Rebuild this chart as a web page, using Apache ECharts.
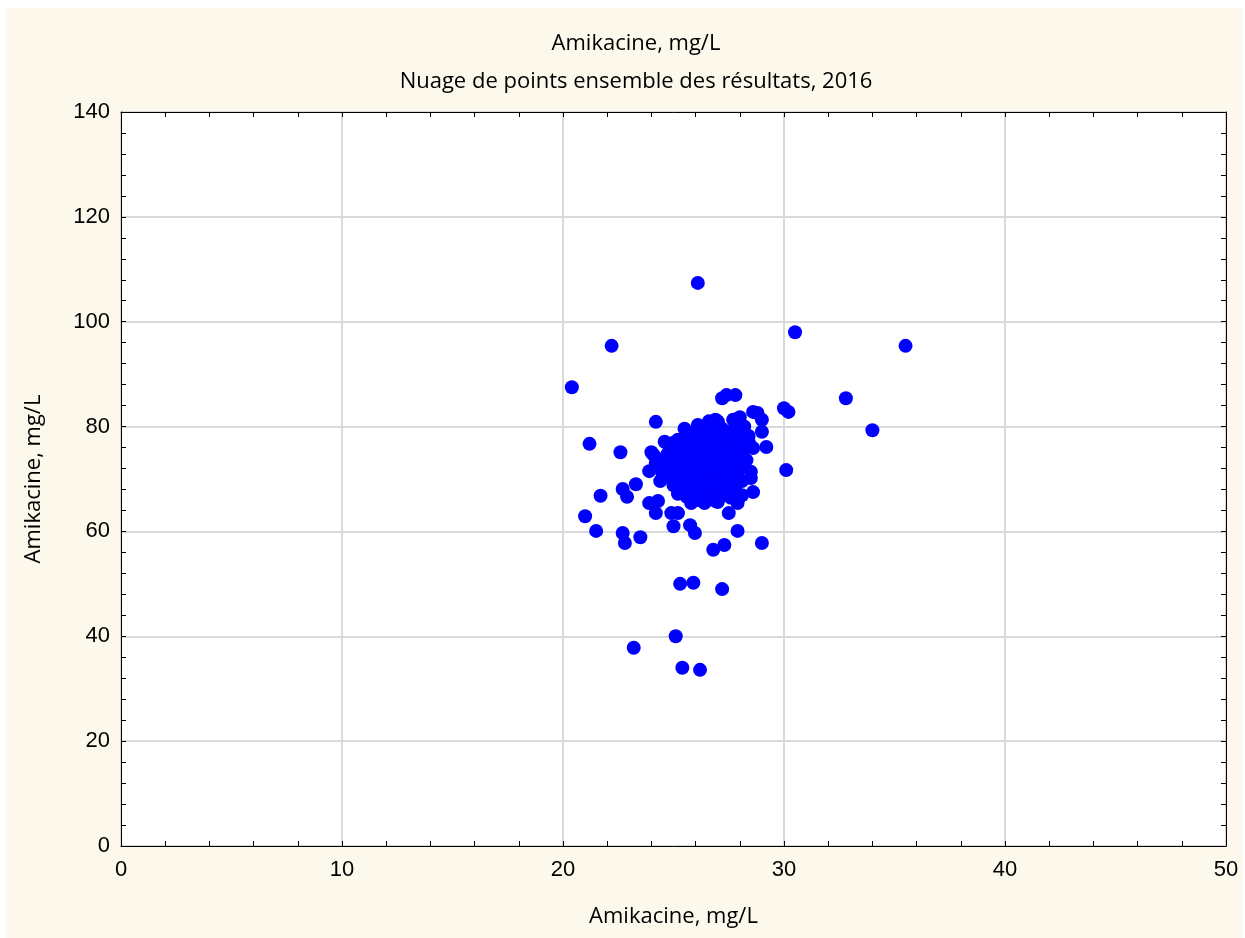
<!DOCTYPE html>
<html>
<head>
<meta charset="utf-8">
<script src="https://cdn.jsdelivr.net/npm/echarts@6/dist/echarts.min.js"></script>
<style>
html,body{margin:0;padding:0;background:#ffffff;}
#bg{position:absolute;left:6px;top:8px;width:1237px;height:930px;background:#fdf8ec;}
#chart{position:absolute;left:0;top:0;width:1245px;height:938px;}
</style>
</head>
<body>
<div id="bg"></div>
<div id="chart"></div>
<script>
const chartTitle = "Amikacine, mg/L";
const chartSubtitle = "Nuage de points ensemble des résultats, 2016";
const xAxisName = "Amikacine, mg/L";
const yAxisName = "Amikacine, mg/L";

// outlying points (x, y)
const outlierX = [26.1, 22.2, 20.4, 30.5, 35.5, 32.8, 34.0, 30.0, 30.2, 30.1, 21.2, 24.2, 22.6, 21.0, 21.7, 21.5, 22.7, 22.9, 22.7, 22.8, 23.5, 23.3, 23.9, 24.3, 24.2, 25.0, 25.75, 25.97, 24.9, 25.2, 27.5, 27.9, 26.8, 27.3, 29.0, 25.3, 25.9, 27.2, 25.1, 23.2, 25.4, 26.2, 27.2, 27.4, 27.8, 28.0, 28.6, 28.8, 29.0, 29.0, 28.4, 28.6, 29.2, 28.0, 28.5, 28.6, 28.1, 27.9, 27.0, 26.4, 25.8, 26.9, 27.7, 26.1];
const outlierY = [107.4, 95.4, 87.5, 98.0, 95.4, 85.4, 79.3, 83.5, 82.8, 71.7, 76.7, 80.9, 75.1, 62.9, 66.8, 60.1, 68.1, 66.6, 59.7, 57.8, 58.9, 69.0, 65.4, 65.8, 63.5, 61.0, 61.2, 59.7, 63.5, 63.5, 63.5, 60.1, 56.5, 57.4, 57.8, 50.0, 50.2, 49.0, 40.0, 37.8, 34.0, 33.6, 85.4, 86.0, 86.0, 81.8, 82.8, 82.6, 81.3, 79.0, 78.2, 75.9, 76.1, 72.3, 70.2, 67.5, 66.9, 65.4, 65.6, 65.4, 65.4, 81.3, 81.3, 80.3];

// dense core of the cloud (x, y)
const coreX = [25.2, 25.6, 26.0, 26.4, 26.8, 27.2, 27.6, 28.0, 25.4, 25.8, 26.2, 26.6, 27.0, 27.4, 27.8, 28.2, 24.8, 25.2, 25.6, 26.0, 26.4, 26.8, 27.2, 27.6, 28.0, 24.6, 25.0, 25.4, 25.8, 26.2, 26.6, 27.0, 27.4, 27.8, 28.2, 24.7, 25.1, 25.5, 25.9, 26.3, 26.7, 27.1, 27.5, 27.9, 24.9, 25.3, 25.7, 26.1, 26.5, 26.9, 27.3, 27.7, 28.1, 25.0, 25.4, 25.8, 26.2, 26.6, 27.0, 27.4, 27.8, 25.2, 25.6, 26.0, 26.4, 26.8, 27.2, 27.6, 26.1, 26.9, 25.5, 26.6, 27.0, 27.9, 24.5, 24.4, 24.3, 26.5, 26.7, 26.0, 25.6, 27.5, 27.3, 26.9, 26.3, 25.9, 26.7, 27.1, 26.4, 25.7, 24.9, 28.4, 28.3, 28.5, 27.8, 27.0, 28.2, 24.2, 23.9, 24.1, 24.0, 24.6, 25.0, 25.3, 25.3, 26.1, 27.1, 27.7, 25.9, 26.5, 24.7, 28.0, 26.3, 27.4];
const coreY = [77.5, 78.4, 79.2, 79.8, 80.2, 79.6, 79.0, 78.0, 76.0, 76.8, 77.6, 78.2, 78.6, 77.8, 76.6, 75.8, 75.2, 74.8, 75.4, 75.9, 76.3, 76.9, 76.1, 75.2, 74.4, 73.8, 73.2, 73.6, 74.2, 74.6, 75.0, 74.4, 73.8, 73.0, 72.4, 72.2, 71.6, 72.0, 72.6, 73.0, 73.4, 72.8, 72.2, 71.4, 70.4, 70.0, 70.6, 71.0, 71.4, 71.8, 70.8, 70.2, 69.6, 68.8, 68.4, 69.0, 69.4, 69.8, 69.2, 68.6, 68.0, 67.2, 66.6, 67.4, 67.8, 67.2, 66.8, 66.4, 66.0, 65.8, 79.6, 81.0, 80.8, 80.4, 71.0, 69.6, 72.8, 76.6, 74.2, 73.4, 71.2, 74.6, 78.8, 77.4, 70.2, 68.0, 68.6, 75.6, 72.2, 77.2, 76.4, 77.0, 73.6, 71.4, 78.2, 81.0, 80.0, 73.0, 71.5, 74.6, 75.1, 77.1, 76.9, 76.3, 72.8, 72.0, 71.2, 73.6, 70.0, 73.8, 74.6, 76.2, 75.2, 69.8];

const xTicks = {min: 0, max: 50, interval: 10};
const yTicks = {min: 0, max: 140, interval: 20};

const data = [];
for (let i = 0; i < outlierX.length; i++) data.push([outlierX[i], outlierY[i]]);
for (let i = 0; i < coreX.length; i++) data.push([coreX[i], coreY[i]]);

const chart = echarts.init(document.getElementById('chart'), null, {renderer: 'canvas'});
const tickFont = {fontFamily: 'Liberation Sans, Arial, sans-serif', fontSize: 22, color: '#000'};
const nameFont = {fontFamily: 'Open Sans, Liberation Sans, sans-serif', fontSize: 22, color: '#000'};

function baseAxis(extra) {
  return Object.assign({
    type: 'value',
    axisLine: {show: true, onZero: false, lineStyle: {color: '#000', width: 1}},
    axisTick: {show: true, inside: true, length: 5, lineStyle: {color: '#000'}},
    minorTick: {show: true, splitNumber: 5, length: 5, lineStyle: {color: '#000'}},
    splitLine: {show: false}
  }, extra);
}

chart.setOption({
  backgroundColor: 'transparent',
  animation: false,
  title: [
    {text: chartTitle, left: 631, top: 28, textAlign: 'center', textStyle: Object.assign({fontWeight: 'normal'}, nameFont)},
    {text: chartSubtitle, left: 631, top: 66, textAlign: 'center', textStyle: Object.assign({fontWeight: 'normal'}, nameFont)}
  ],
  grid: {left: 121, right: 19, top: 112, bottom: 92, backgroundColor: '#fff', show: true, borderWidth: 0},
  xAxis: [
    baseAxis({min: xTicks.min, max: xTicks.max, interval: xTicks.interval, position: 'bottom',
      name: xAxisName, nameLocation: 'middle', nameGap: 60, nameTextStyle: nameFont,
      axisLabel: Object.assign({margin: 13}, tickFont),
      splitLine: {show: true, lineStyle: {color: '#d9d9d9', width: 2}}}),
    baseAxis({min: xTicks.min, max: xTicks.max, interval: xTicks.interval, position: 'top',
      axisLabel: {show: false}})
  ],
  yAxis: [
    baseAxis({min: yTicks.min, max: yTicks.max, interval: yTicks.interval, position: 'left',
      name: yAxisName, nameLocation: 'middle', nameGap: 76, nameTextStyle: nameFont,
      axisLabel: Object.assign({margin: 11}, tickFont),
      splitLine: {show: true, lineStyle: {color: '#d9d9d9', width: 2}}}),
    baseAxis({min: yTicks.min, max: yTicks.max, interval: yTicks.interval, position: 'right',
      axisLabel: {show: false}})
  ],
  series: [{
    type: 'scatter',
    xAxisIndex: 0, yAxisIndex: 0,
    symbol: 'circle',
    symbolSize: 14,
    itemStyle: {color: '#0000ff', opacity: 1},
    data: data
  }]
});
</script>
</body>
</html>
